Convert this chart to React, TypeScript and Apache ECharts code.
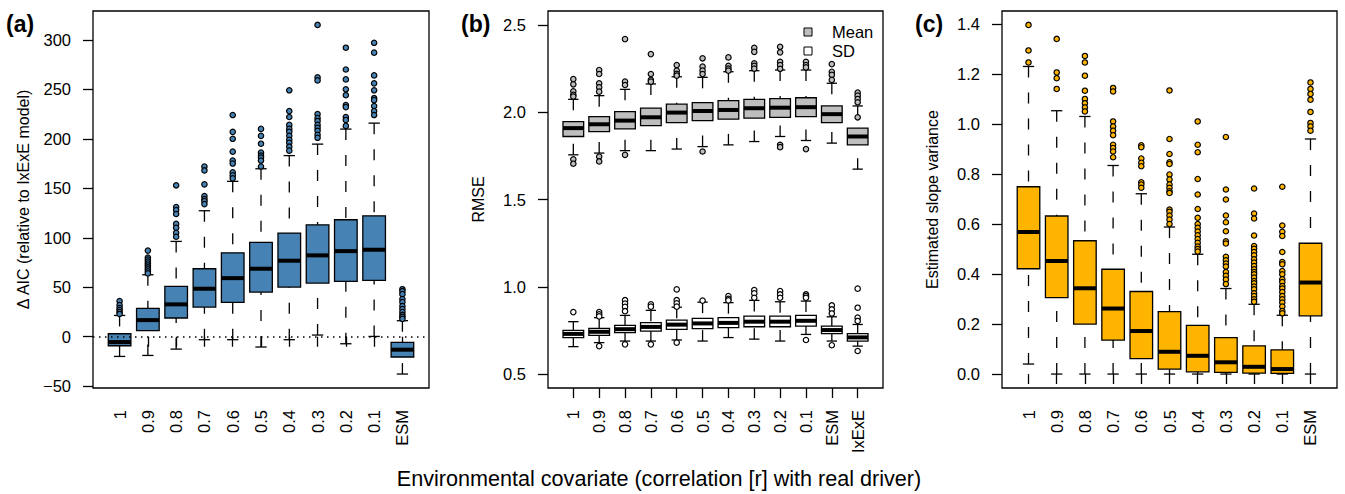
import React, { useEffect, useRef } from "react";
import * as echarts from "echarts";

// ---------- Data ----------
const catsA = ["1", "0.9", "0.8", "0.7", "0.6", "0.5", "0.4", "0.3", "0.2", "0.1", "ESM"];
const catsB = ["1", "0.9", "0.8", "0.7", "0.6", "0.5", "0.4", "0.3", "0.2", "0.1", "ESM", "IxExE"];
const catsC = ["1", "0.9", "0.8", "0.7", "0.6", "0.5", "0.4", "0.3", "0.2", "0.1", "ESM"];

// Panel (a): Δ AIC
const aLow = [-19.9, -18.9, -12.5, -3, -3, -10.4, -3, 1.7, -7.1, 0.3, -37.7];
const aQ1 = [-9.1, 6.1, 18.9, 30, 34.7, 45.1, 50.2, 54.2, 55.9, 56.9, -20.5];
const aMed = [-5.4, 16.8, 32.7, 48.5, 59.2, 68.7, 76.8, 82.2, 86.5, 87.9, -13.1];
const aQ3 = [3.0, 28.6, 50.8, 68.7, 84.8, 95.3, 104.7, 113.1, 118.2, 122.2, -5.7];
const aHigh = [21.5, 62.6, 96.3, 127.3, 157, 169.7, 183, 194.6, 209.8, 215.8, 16.2];
const aOut = [
  [36, 32, 29, 27, 25, 23],
  [87, 80, 78, 76, 74, 72, 70, 68, 66, 64],
  [153, 131, 128, 124, 114, 110, 105, 101],
  [172, 168, 154, 142, 139, 137, 134],
  [224, 207, 200, 187, 178, 175, 166, 163, 160],
  [210, 203, 195, 186, 183, 181, 178, 172],
  [249, 228, 222, 214, 210, 207, 203, 199, 196, 192, 188],
  [315, 262, 259, 225, 221, 218, 214, 211, 208, 204, 201],
  [292, 270, 260, 250, 244, 234, 232, 222, 219, 213],
  [297, 287, 264, 256, 249, 241, 239, 233, 228, 224],
  [48, 46, 43, 38, 35, 31, 28, 25, 22, 20, 18],
];
const aTicks = [-50, 0, 50, 100, 150, 200, 250, 300];

// Panel (b): RMSE, Mean
const bmLow = [1.756, 1.766, 1.78, 1.78, 1.789, 1.803, 1.813, 1.832, 1.861, 1.838, 1.823, 1.674];
const bmQ1 = [1.861, 1.889, 1.905, 1.923, 1.941, 1.952, 1.96, 1.966, 1.971, 1.975, 1.941, 1.813];
const bmMed = [1.909, 1.931, 1.952, 1.971, 1.998, 2.007, 2.013, 2.023, 2.026, 2.029, 1.989, 1.861];
const bmQ3 = [1.946, 1.975, 2.003, 2.023, 2.046, 2.055, 2.066, 2.074, 2.078, 2.083, 2.036, 1.909];
const bmHigh = [2.074, 2.095, 2.131, 2.162, 2.203, 2.2, 2.232, 2.238, 2.242, 2.242, 2.166, 2.036];
const bmOut = [
  [2.19, 2.16, 2.12, 2.1, 2.09, 1.73, 1.705],
  [2.242, 2.219, 2.166, 2.143, 2.118, 1.746, 1.718],
  [2.419, 2.175, 2.156, 1.756],
  [2.333, 2.219, 2.185, 2.175],
  [2.27, 2.238, 2.22, 2.21],
  [2.309, 2.261, 2.238, 2.219, 1.775],
  [2.314, 2.266, 2.25, 2.238],
  [2.369, 2.346, 2.28, 2.266, 2.25],
  [2.375, 2.343, 2.289, 2.27, 2.249, 1.813, 1.8],
  [2.289, 2.27, 2.257, 1.789],
  [2.276, 2.232, 2.214, 2.185],
  [2.112, 2.095, 2.076, 2.057, 1.971],
];
// Panel (b): RMSE, SD
const bsLow = [0.657, 0.68, 0.689, 0.689, 0.695, 0.689, 0.709, 0.7, 0.689, 0.727, 0.689, 0.66];
const bsQ1 = [0.709, 0.722, 0.737, 0.746, 0.756, 0.76, 0.766, 0.771, 0.771, 0.775, 0.731, 0.689];
const bsMed = [0.73, 0.742, 0.757, 0.77, 0.783, 0.79, 0.793, 0.8, 0.8, 0.805, 0.752, 0.71];
const bsQ3 = [0.75, 0.762, 0.779, 0.794, 0.809, 0.819, 0.823, 0.832, 0.832, 0.836, 0.775, 0.731];
const bsHigh = [0.8, 0.823, 0.836, 0.865, 0.883, 0.912, 0.909, 0.922, 0.914, 0.918, 0.828, 0.784];
const bsOut = [
  [0.855],
  [0.855, 0.842, 0.83, 0.66],
  [0.923, 0.904, 0.885, 0.86, 0.67],
  [0.899, 0.886, 0.67],
  [0.985, 0.923, 0.905, 0.886, 0.68],
  [0.921],
  [0.946, 0.931, 0.922],
  [0.981, 0.962, 0.937],
  [0.975, 0.956, 0.937],
  [0.956, 0.946, 0.937, 0.695],
  [0.893, 0.87, 0.847, 0.665],
  [0.989, 0.88, 0.823, 0.804, 0.632],
];
const bTicks = [0.5, 1.0, 1.5, 2.0, 2.5];
const bLegend = ["Mean", "SD"];

// Panel (c): Estimated slope variance
const cLow = [0.04, 0, 0, 0, 0, 0, 0, 0, 0, 0, 0];
const cQ1 = [0.421, 0.306, 0.2, 0.136, 0.062, 0.02, 0.009, 0.007, 0.004, 0.003, 0.233];
const cMed = [0.568, 0.452, 0.343, 0.262, 0.172, 0.089, 0.073, 0.047, 0.029, 0.02, 0.366];
const cQ3 = [0.749, 0.632, 0.533, 0.419, 0.33, 0.25, 0.195, 0.146, 0.113, 0.097, 0.523];
const cHigh = [1.23, 1.053, 1.03, 0.834, 0.721, 0.588, 0.479, 0.342, 0.279, 0.235, 0.94];
const cOut = [
  [1.396, 1.294, 1.246],
  [1.34, 1.206, 1.183, 1.14],
  [1.272, 1.246, 1.193, 1.133, 1.1, 1.083, 1.066, 1.05],
  [1.144, 1.13, 1.01, 0.99, 0.973, 0.955, 0.917, 0.904, 0.89, 0.867],
  [0.915, 0.907, 0.862, 0.845, 0.831, 0.767, 0.758, 0.745],
  [1.134, 0.94, 0.88, 0.847, 0.84, 0.798, 0.778, 0.758, 0.745, 0.731, 0.724, 0.658, 0.649, 0.634, 0.618, 0.6],
  [1.01, 0.917, 0.887, 0.78, 0.718, 0.66, 0.625, 0.6, 0.585, 0.57, 0.555, 0.54, 0.525, 0.51, 0.5, 0.49],
  [0.948, 0.738, 0.698, 0.634, 0.607, 0.571, 0.531, 0.522, 0.469, 0.455, 0.442, 0.43, 0.408, 0.393, 0.378, 0.36],
  [0.742, 0.642, 0.622, 0.554, 0.512, 0.501, 0.488, 0.475, 0.459, 0.446, 0.432, 0.419, 0.408, 0.399, 0.386, 0.372, 0.363, 0.35, 0.339, 0.323, 0.312, 0.299, 0.289],
  [0.749, 0.594, 0.569, 0.552, 0.488, 0.448, 0.439, 0.412, 0.399, 0.379, 0.368, 0.352, 0.342, 0.328, 0.312, 0.299, 0.286, 0.27, 0.252, 0.243],
  [1.166, 1.14, 1.12, 1.097, 1.048, 1.004, 0.99, 0.973],
];
const cTicks = [0.0, 0.2, 0.4, 0.6, 0.8, 1.0, 1.2, 1.4];

// ---------- Styling ----------
const FONT = "'Liberation Sans', Arial, Helvetica, sans-serif";
const BLUE = "#4682B4";
const ORANGE = "#FFB400";
const GREY = "#BEBEBE";
const TICK_FONT = 16.5;

const boxData = (low: number[], q1: number[], med: number[], q3: number[], high: number[]) =>
  low.map((_, i) => [i + 1, low[i], q1[i], med[i], q3[i], high[i]]);
const outData = (out: number[][]) => out.flatMap((vals, i) => vals.map((v) => [i + 1, v]));

const renderBox = (params: any, api: any) => {
  const x = api.value(0);
  const w = api.size([0.8, 0])[0];
  const half = w / 2;
  const sh = w / 4;
  const cx = api.coord([x, api.value(3)])[0];
  const yLow = api.coord([x, api.value(1)])[1];
  const yQ1 = api.coord([x, api.value(2)])[1];
  const yMed = api.coord([x, api.value(3)])[1];
  const yQ3 = api.coord([x, api.value(4)])[1];
  const yHigh = api.coord([x, api.value(5)])[1];
  const fill = api.visual("color");
  const dashed = { stroke: "#000", lineWidth: 1.3, lineDash: [11, 15] };
  const solid = { stroke: "#000", lineWidth: 1.3 };
  return {
    type: "group",
    children: [
      { type: "line", shape: { x1: cx, y1: yHigh, x2: cx, y2: yQ3 }, style: dashed },
      { type: "line", shape: { x1: cx, y1: yLow, x2: cx, y2: yQ1 }, style: dashed },
      { type: "line", shape: { x1: cx - sh, y1: yHigh, x2: cx + sh, y2: yHigh }, style: solid },
      { type: "line", shape: { x1: cx - sh, y1: yLow, x2: cx + sh, y2: yLow }, style: solid },
      {
        type: "rect",
        shape: { x: cx - half, y: yQ3, width: w, height: yQ1 - yQ3 },
        style: { fill, stroke: "#000", lineWidth: 1.3 },
      },
      { type: "line", shape: { x1: cx - half, y1: yMed, x2: cx + half, y2: yMed }, style: { stroke: "#000", lineWidth: 4 } },
    ],
  };
};

const xAxisFor = (gridIndex: number, cats: string[]) => {
  const n = cats.length;
  const vals = cats.map((_, i) => i + 1);
  return {
    type: "value",
    gridIndex,
    min: 0.5 - 0.04 * n,
    max: n + 0.5 + 0.04 * n,
    axisLine: { show: false },
    splitLine: { show: false },
    axisTick: { show: true, customValues: vals, length: 10, lineStyle: { color: "#000", width: 1.3 } },
    axisLabel: {
      customValues: vals,
      rotate: 90,
      margin: 22,
      fontSize: TICK_FONT,
      color: "#000",
      fontFamily: FONT,
      formatter: (v: number) => cats[Math.round(v) - 1] ?? "",
    },
  };
};

const yAxisFor = (gridIndex: number, min: number, max: number, ticks: number[], name: string, fmt: (v: number) => string) => ({
  type: "value",
  gridIndex,
  min,
  max,
  name,
  nameLocation: "middle",
  nameGap: 62,
  nameRotate: 90,
  nameTextStyle: { fontSize: 16, color: "#000", fontFamily: FONT },
  axisLine: { show: false },
  splitLine: { show: false },
  axisTick: { show: true, customValues: ticks, length: 10, lineStyle: { color: "#000", width: 1.3 } },
  axisLabel: { customValues: ticks, margin: 22, fontSize: TICK_FONT, color: "#000", fontFamily: FONT, formatter: fmt },
});

const outlierSeries = (name: string, idx: number, data: number[][], color: string, extra: any = {}) => ({
  name,
  type: "scatter",
  xAxisIndex: idx,
  yAxisIndex: idx,
  data,
  symbol: "circle",
  symbolSize: 5.4,
  z: 5,
  itemStyle: { color, borderColor: "#000", borderWidth: 1.2, opacity: 1 },
  ...extra,
});

const boxSeries = (name: string, idx: number, data: number[][], color: string) => ({
  name,
  type: "custom",
  xAxisIndex: idx,
  yAxisIndex: idx,
  data,
  dimensions: ["x", "low", "q1", "med", "q3", "high"],
  encode: { x: 0, y: [1, 2, 3, 4, 5] },
  itemStyle: { color },
  renderItem: renderBox,
  z: 3,
});

export default function App() {
  const ref = useRef<HTMLDivElement>(null);
  useEffect(() => {
    if (!ref.current) return;
    const chart = echarts.init(ref.current, null, { renderer: "svg" });
    const legendFills = [GREY, "#fff"];
    const legendGraphics = bLegend.flatMap((label, i) => [
      {
        type: "rect",
        shape: { x: 804, y: 28 + i * 19, width: 8, height: 8 },
        style: { fill: legendFills[i], stroke: "#000", lineWidth: 1 },
      },
      {
        type: "text",
        x: 832,
        y: 32 + i * 19,
        style: { text: label, font: `16.5px ${FONT}`, fill: "#000", textVerticalAlign: "middle" },
      },
    ]);
    const option: any = {
      animation: false,
      backgroundColor: "#fff",
      textStyle: { fontFamily: FONT },
      grid: [
        { left: 93, top: 11, width: 336, height: 377, show: true, borderColor: "#000", borderWidth: 1.3, backgroundColor: "transparent" },
        { left: 548, top: 11, width: 335, height: 377, show: true, borderColor: "#000", borderWidth: 1.3, backgroundColor: "transparent" },
        { left: 1002, top: 11, width: 335, height: 377, show: true, borderColor: "#000", borderWidth: 1.3, backgroundColor: "transparent" },
      ],
      xAxis: [xAxisFor(0, catsA), xAxisFor(1, catsB), xAxisFor(2, catsC)],
      yAxis: [
        yAxisFor(0, -51.8, 329.1, aTicks, "Δ AIC (relative to IxExE model)", (v) => (v < 0 ? "\u2212" + Math.abs(v) : String(v))),
        yAxisFor(1, 0.42, 2.58, bTicks, "RMSE", (v) => v.toFixed(1)),
        yAxisFor(2, -0.0558, 1.4518, cTicks, "Estimated slope variance", (v) => v.toFixed(1)),
      ],
      graphic: [
        { type: "text", left: 6, top: 12, style: { text: "(a)", font: `bold 23px ${FONT}`, fill: "#000" } },
        { type: "text", left: 461, top: 12, style: { text: "(b)", font: `bold 23px ${FONT}`, fill: "#000" } },
        { type: "text", left: 915, top: 12, style: { text: "(c)", font: `bold 23px ${FONT}`, fill: "#000" } },
        ...legendGraphics,
        {
          type: "text",
          x: 659,
          y: 478,
          style: {
            text: "Environmental covariate (correlation [r] with real driver)",
            font: `21.6px ${FONT}`,
            fill: "#000",
            textAlign: "center",
            textVerticalAlign: "middle",
          },
        },
      ],
      series: [
        boxSeries("AIC", 0, boxData(aLow, aQ1, aMed, aQ3, aHigh), BLUE),
        outlierSeries("AIC outliers", 0, outData(aOut), BLUE, {
          markLine: {
            silent: true,
            symbol: "none",
            label: { show: false },
            lineStyle: { color: "#000", width: 1.5, type: [1.5, 4.5] },
            data: [{ yAxis: 0 }],
          },
        }),
        boxSeries("Mean", 1, boxData(bmLow, bmQ1, bmMed, bmQ3, bmHigh), GREY),
        outlierSeries("Mean outliers", 1, outData(bmOut), GREY),
        boxSeries("SD", 1, boxData(bsLow, bsQ1, bsMed, bsQ3, bsHigh), "#fff"),
        outlierSeries("SD outliers", 1, outData(bsOut), "#fff"),
        boxSeries("Slope variance", 2, boxData(cLow, cQ1, cMed, cQ3, cHigh), ORANGE),
        outlierSeries("Slope outliers", 2, outData(cOut), ORANGE),
      ],
    };
    chart.setOption(option);
    return () => chart.dispose();
  }, []);
  return (
    <div
      ref={ref}
      style={{ position: "fixed", left: 0, top: 0, width: 1345, height: 494, background: "#fff" }}
    />
  );
}
